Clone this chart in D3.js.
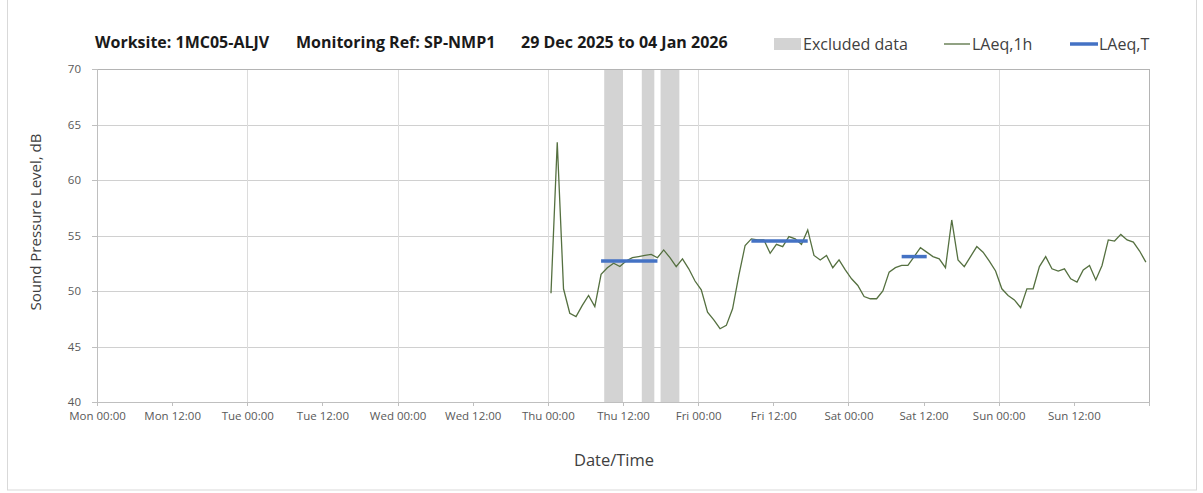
<!DOCTYPE html>
<html>
<head>
<meta charset="utf-8">
<script src="https://cdn.jsdelivr.net/npm/d3@7"></script>
<style>
  body { margin: 0; background: #fff; }
  text { font-family: "Open Sans", "Noto Sans", sans-serif; }
</style>
</head>
<body>
<div id="chart"></div>
<script>
// data
var titleParts = ["Worksite: 1MC05-ALJV", "Monitoring Ref: SP-NMP1", "29 Dec 2025 to 04 Jan 2026"];
var axisStart = "2025-12-29T00:00";
var axisEnd = "2026-01-05T00:00";
var yTicks = [40, 45, 50, 55, 60, 65, 70];

// hourly LAeq,1h from Thu 00:30, one value per hour
var laeq1hStart = "2026-01-01T00:30";
var laeq1h = [
  // Thu
  49.8, 63.4, 50.2, 48.0, 47.7, 48.7, 49.6, 48.6, 51.5, 52.1, 52.5, 52.2,
  52.7, 53.0, 53.1, 53.2, 53.3, 53.0, 53.7, 53.0, 52.2, 52.9, 52.0, 50.9,
  // Fri
  50.1, 48.1, 47.4, 46.6, 46.9, 48.4, 51.4, 54.1, 54.7, 54.6, 54.6, 53.4,
  54.2, 54.0, 54.9, 54.7, 54.2, 55.5, 53.2, 52.8, 53.2, 52.1, 52.8, 51.9,
  // Sat
  51.1, 50.5, 49.5, 49.3, 49.3, 50.0, 51.7, 52.1, 52.3, 52.3, 53.1, 53.9,
  53.5, 53.1, 52.9, 52.1, 56.4, 52.8, 52.2, 53.1, 54.0, 53.5, 52.7, 51.8,
  // Sun
  50.2, 49.6, 49.2, 48.5, 50.2, 50.2, 52.2, 53.1, 52.0, 51.8, 52.0, 51.1,
  50.8, 51.9, 52.3, 51.0, 52.3, 54.6, 54.5, 55.1, 54.6, 54.4, 53.6, 52.6
];

// LAeq,T over working periods
var laeqTStart = ["2026-01-01T08:30", "2026-01-02T08:30", "2026-01-03T08:30"];
var laeqTEnd = ["2026-01-01T17:30", "2026-01-02T17:30", "2026-01-03T12:30"];
var laeqTValue = [52.7, 54.5, 53.1];

// excluded periods
var excludedStart = ["2026-01-01T09:00", "2026-01-01T15:00", "2026-01-01T18:00"];
var excludedEnd = ["2026-01-01T12:00", "2026-01-01T17:00", "2026-01-01T21:00"];

var svgWidth = 1203;
var svgHeight = 493;

var plot = { left: 97, right: 1149, top: 69, bottom: 402 };

var parseTime = d3.timeParse("%Y-%m-%dT%H:%M");
var fmt = d3.timeFormat("%a %H:%M");

var svg = d3.select("#chart")
  .append("svg")
  .attr("width", svgWidth)
  .attr("height", svgHeight);

// outer chart border
svg.append("rect")
  .attr("x", 7.5)
  .attr("y", -1)
  .attr("width", 1189)
  .attr("height", 491)
  .attr("fill", "none")
  .attr("stroke", "#d9d9d9");

var xScale = d3.scaleTime()
  .domain([parseTime(axisStart), parseTime(axisEnd)])
  .range([plot.left, plot.right]);

var yScale = d3.scaleLinear()
  .domain([40, 70])
  .range([plot.bottom, plot.top]);

// gridlines
var hGrid = svg.append("g")
  .attr("transform", `translate(${plot.left}, 0)`)
  .call(d3.axisLeft(yScale).tickValues(yTicks.slice(1, -1)).tickSize(-(plot.right - plot.left)).tickFormat(""));
hGrid.select(".domain").remove();
hGrid.selectAll("line").attr("stroke", "#d0d0d0").attr("shape-rendering", "crispEdges");

var dayTicks = d3.timeDay.range(d3.timeDay.offset(parseTime(axisStart), 1), parseTime(axisEnd));
var vGrid = svg.append("g")
  .attr("transform", `translate(0, ${plot.bottom})`)
  .call(d3.axisBottom(xScale).tickValues(dayTicks).tickSize(-(plot.bottom - plot.top)).tickFormat(""));
vGrid.select(".domain").remove();
vGrid.selectAll("line").attr("stroke", "#dcdcdc").attr("shape-rendering", "crispEdges");

// excluded bands
svg.append("g")
  .selectAll("rect")
  .data(excludedStart.map((s, i) => [parseTime(s), parseTime(excludedEnd[i])]))
  .enter()
  .append("rect")
  .attr("x", d => xScale(d[0]))
  .attr("y", plot.top)
  .attr("width", d => xScale(d[1]) - xScale(d[0]))
  .attr("height", plot.bottom - plot.top)
  .attr("fill", "#d3d3d3");

// plot frame: top and right edges
svg.append("line")
  .attr("x1", plot.left).attr("x2", plot.right)
  .attr("y1", plot.top).attr("y2", plot.top)
  .attr("stroke", "#b4b4b4").attr("shape-rendering", "crispEdges");
svg.append("line")
  .attr("x1", plot.right).attr("x2", plot.right)
  .attr("y1", plot.top).attr("y2", plot.bottom)
  .attr("stroke", "#b4b4b4").attr("shape-rendering", "crispEdges");

// axes
var halfDays = d3.timeHour.every(12).range(parseTime(axisStart), parseTime(axisEnd));
var xAxis = svg.append("g")
  .attr("transform", `translate(0, ${plot.bottom})`)
  .call(d3.axisBottom(xScale).tickValues(halfDays).tickSize(4).tickPadding(6).tickFormat(fmt));
xAxis.select(".domain").attr("stroke", "#bfbfbf").attr("shape-rendering", "crispEdges");
xAxis.selectAll("line").attr("stroke", "#bfbfbf").attr("shape-rendering", "crispEdges");
xAxis.selectAll("text").attr("font-size", "11.5px").attr("fill", "#595959")
  .attr("font-family", "'Open Sans', sans-serif");

var yAxis = svg.append("g")
  .attr("transform", `translate(${plot.left}, 0)`)
  .call(d3.axisLeft(yScale).tickValues(yTicks).tickSize(5).tickPadding(11));
yAxis.select(".domain").attr("stroke", "#bfbfbf").attr("shape-rendering", "crispEdges");
yAxis.selectAll("line").attr("stroke", "#bfbfbf").attr("shape-rendering", "crispEdges");
yAxis.selectAll("text").attr("font-size", "11.5px").attr("fill", "#595959")
  .attr("font-family", "'Open Sans', sans-serif");

// LAeq,1h line
var t0 = parseTime(laeq1hStart);
var hourly = laeq1h.map((v, i) => ({ t: d3.timeHour.offset(t0, i), v: v }));

var line = d3.line()
  .x(d => xScale(d.t))
  .y(d => yScale(d.v));

svg.append("path")
  .datum(hourly)
  .attr("d", line)
  .attr("fill", "none")
  .attr("stroke", "#557040")
  .attr("stroke-width", 1.3);

// LAeq,T segments
svg.append("g")
  .selectAll("line")
  .data(laeqTValue.map((v, i) => ({ s: parseTime(laeqTStart[i]), e: parseTime(laeqTEnd[i]), v: v })))
  .enter()
  .append("line")
  .attr("x1", d => xScale(d.s))
  .attr("x2", d => xScale(d.e))
  .attr("y1", d => yScale(d.v))
  .attr("y2", d => yScale(d.v))
  .attr("stroke", "#4472c4")
  .attr("stroke-width", 3.5);

// title
var titleX = [95, 296, 521];
svg.append("g")
  .selectAll("text")
  .data(titleParts)
  .enter()
  .append("text")
  .attr("x", (d, i) => titleX[i])
  .attr("y", 48)
  .attr("font-size", "16px")
  .attr("font-weight", "bold")
  .attr("fill", "#1a1a1a")
  .text(d => d);

// legend
var legend = svg.append("g").attr("font-size", "16px").attr("fill", "#404040");
legend.append("rect")
  .attr("x", 774).attr("y", 38).attr("width", 27).attr("height", 12)
  .attr("fill", "#d3d3d3");
legend.append("text").attr("x", 803).attr("y", 50).attr("fill", "#404040").text("Excluded data");
legend.append("line")
  .attr("x1", 944).attr("x2", 970).attr("y1", 44).attr("y2", 44)
  .attr("stroke", "#557040").attr("stroke-width", 1.3);
legend.append("text").attr("x", 972).attr("y", 50).attr("fill", "#404040").text("LAeq,1h");
legend.append("line")
  .attr("x1", 1070).attr("x2", 1098).attr("y1", 44).attr("y2", 44)
  .attr("stroke", "#4472c4").attr("stroke-width", 3.5);
legend.append("text").attr("x", 1099).attr("y", 50).attr("fill", "#404040").text("LAeq,T");

// axes labels
svg.append("text")
  .attr("transform", "rotate(-90)")
  .attr("x", -222)
  .attr("y", 41)
  .attr("text-anchor", "middle")
  .attr("font-size", "15px")
  .attr("fill", "#404040")
  .text("Sound Pressure Level, dB");

svg.append("text")
  .attr("x", 614)
  .attr("y", 466)
  .attr("text-anchor", "middle")
  .attr("font-size", "16.5px")
  .attr("fill", "#404040")
  .text("Date/Time");
</script>
</body>
</html>
